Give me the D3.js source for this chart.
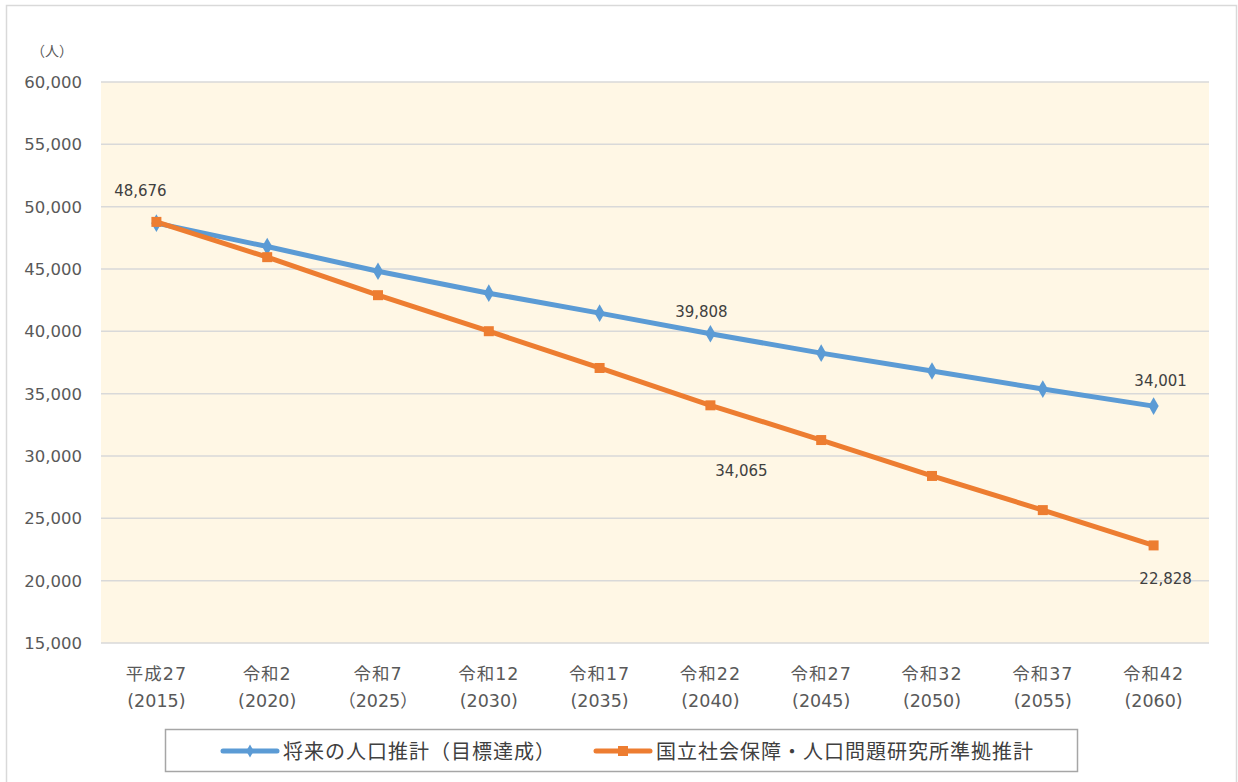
<!DOCTYPE html>
<html>
<head>
<meta charset="utf-8">
<script src="https://cdn.jsdelivr.net/npm/d3@7"></script>
<style>
  body { margin: 0; background: #fff; }
  svg { font-family: "DejaVu Sans", "Noto Sans CJK JP", sans-serif; }
</style>
</head>
<body>
<div class="chart"></div>
<script>
// categories (two-line labels)
const eras = ["平成27", "令和2", "令和7", "令和12", "令和17", "令和22", "令和27", "令和32", "令和37", "令和42"]
const years = ["(2015)", "(2020)", "（2025）", "(2030)", "(2035)", "(2040)", "(2045)", "(2050)", "(2055)", "(2060)"]

// series
const target = [48676, 46800, 44820, 43060, 41460, 39808, 38250, 36820, 35370, 34001]
const ipss = [48780, 45950, 42900, 40010, 37060, 34065, 31280, 28400, 25660, 22828]
const seriesNames = ["将来の人口推計（目標達成）", "国立社会保障・人口問題研究所準拠推計"]

const yTicks = [15000, 20000, 25000, 30000, 35000, 40000, 45000, 50000, 55000, 60000]

const W = 1238, H = 782
const m = {left: 101, right: 1209, top: 82, bottom: 643}

const svg = d3.select('.chart').append('svg')
  .attr('width', W).attr('height', H)

// outer frame
svg.append('rect')
  .attr('x', 6.5).attr('y', 5.5).attr('width', 1230).attr('height', 790)
  .attr('fill', 'none').attr('stroke', '#d9d9d9').attr('stroke-width', 1.5)

const x = d3.scaleBand().domain(d3.range(eras.length)).range([m.left, m.right]).padding(0)
const y = d3.scaleLinear().domain([15000, 60000]).range([m.bottom, m.top])
const cx = i => x(i) + x.bandwidth() / 2

svg.append('rect')
  .attr('x', m.left).attr('y', m.top)
  .attr('width', m.right - m.left).attr('height', m.bottom - m.top)
  .attr('fill', '#fff7e5')

// gridlines
svg.selectAll('.grid')
  .data(yTicks)
  .enter()
  .append('line')
  .attr('x1', m.left).attr('x2', m.right)
  .attr('y1', d => y(d)).attr('y2', d => y(d))
  .attr('stroke', '#d9d9d9').attr('stroke-width', 1.5)

// y axis labels
svg.selectAll('.ylab')
  .data(yTicks)
  .enter()
  .append('text')
  .attr('x', 82).attr('y', d => y(d) + 6)
  .attr('text-anchor', 'end')
  .attr('font-size', 16.5).attr('fill', '#595959')
  .text(d => d3.format(',')(d))

svg.append('text')
  .attr('x', 52).attr('y', 56)
  .attr('text-anchor', 'middle')
  .attr('font-size', 14).attr('fill', '#595959')
  .text('（人）')

// x axis labels
const xl = svg.selectAll('.xlab')
  .data(eras)
  .enter()
  .append('text')
  .attr('text-anchor', 'middle')
  .attr('font-size', 17.5).attr('fill', '#595959')
xl.append('tspan').attr('x', (d, i) => cx(i)).attr('y', 680).attr('letter-spacing', 1).text(d => d)
xl.append('tspan').attr('x', (d, i) => cx(i)).attr('y', 707).text((d, i) => years[i])

const line = d3.line().x((d, i) => cx(i)).y(d => y(d))

const blue = '#5b9bd5', orange = '#ed7d31'

svg.append('path').datum(target)
  .attr('d', line).attr('fill', 'none')
  .attr('stroke', blue).attr('stroke-width', 5).attr('stroke-linejoin', 'round')
svg.append('path').datum(ipss)
  .attr('d', line).attr('fill', 'none')
  .attr('stroke', orange).attr('stroke-width', 5).attr('stroke-linejoin', 'round')

// markers
svg.selectAll('.dia')
  .data(target)
  .enter()
  .append('path')
  .attr('transform', (d, i) => `translate(${cx(i)},${y(d)})`)
  .attr('d', d3.symbol().type(d3.symbolDiamond).size(90))
  .attr('fill', blue)

svg.selectAll('.sq')
  .data(ipss)
  .enter()
  .append('rect')
  .attr('x', (d, i) => cx(i) - 5).attr('y', d => y(d) - 5)
  .attr('width', 10).attr('height', 10)
  .attr('fill', orange)

// data labels
const labels = [
  {s: target, i: 0, dx: -16, dy: -27},
  {s: target, i: 5, dx: -9, dy: -17},
  {s: target, i: 9, dx: 7, dy: -20},
  {s: ipss, i: 5, dx: 31, dy: 71},
  {s: ipss, i: 9, dx: 12, dy: 39}
]
svg.selectAll('.dl')
  .data(labels)
  .enter()
  .append('text')
  .attr('x', d => cx(d.i) + d.dx)
  .attr('y', d => y(d.s[d.i]) + d.dy)
  .attr('text-anchor', 'middle')
  .attr('font-size', 15).attr('fill', '#404040')
  .text(d => d3.format(',')(d.s[d.i]))

// legend
svg.append('rect')
  .attr('x', 165.5).attr('y', 729.5).attr('width', 912).attr('height', 42)
  .attr('fill', '#fff').attr('stroke', '#a6a6a6').attr('stroke-width', 1.5)

const leg = [
  {name: seriesNames[0], color: blue, x0: 223, type: 'dia'},
  {name: seriesNames[1], color: orange, x0: 596, type: 'sq'}
]
leg.forEach(l => {
  svg.append('line')
    .attr('x1', l.x0).attr('x2', l.x0 + 54).attr('y1', 751).attr('y2', 751)
    .attr('stroke', l.color).attr('stroke-width', 5).attr('stroke-linecap', 'round')
  if (l.type === 'dia') {
    svg.append('path')
      .attr('transform', `translate(${l.x0 + 27},751)`)
      .attr('d', d3.symbol().type(d3.symbolDiamond).size(50))
      .attr('fill', l.color)
  } else {
    svg.append('rect')
      .attr('x', l.x0 + 22).attr('y', 746).attr('width', 10).attr('height', 10)
      .attr('fill', l.color)
  }
  svg.append('text')
    .attr('x', l.x0 + 60).attr('y', 759)
    .attr('font-size', 20).attr('letter-spacing', 1).attr('fill', '#404040')
    .text(l.name)
})
</script>
</body>
</html>
